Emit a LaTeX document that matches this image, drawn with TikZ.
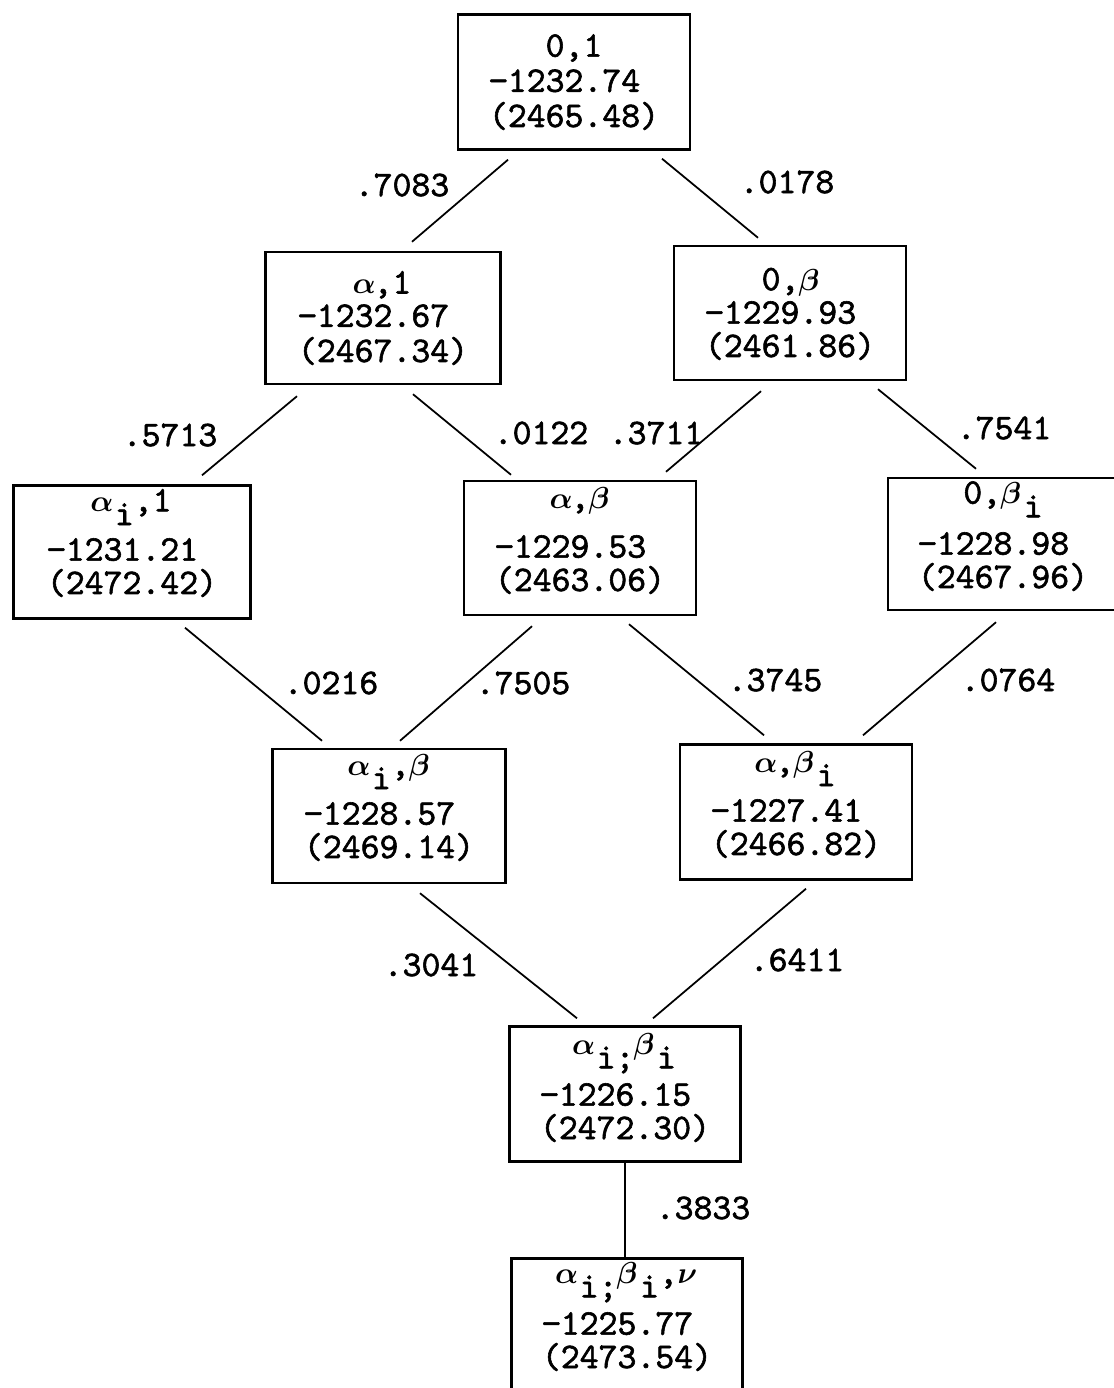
\documentclass[tikz,border=0pt]{standalone}
\usepackage{fontspec}
\newfontfamily\tw{lmmono10-regular.otf}[FakeBold=1.6]
\newcommand\gk[1]{\makebox[0.525em]{\fontsize{17.5}{19}\selectfont\boldmath$#1$}}
\newcommand\sbx[1]{\kern0.1em\raisebox{-0.38em}[0pt][0pt]{#1}}
\begin{document}
\begin{tikzpicture}[x=0.02cm,y=-0.02cm,
  box/.style={draw,line width=1.4pt,rectangle,inner sep=0pt,align=left,
              font=\tw\fontsize{20.5}{19}\selectfont,text depth=0pt},
  lastbl/.style={text height=#1},
  edge/.style={line width=1pt},
  lbl/.style={inner sep=0pt,font=\tw\fontsize{20.5}{19}\selectfont}]
\useasboundingbox (0,0) rectangle (1114,1388);
\clip (0,0) rectangle (1114,1388);

% boxes
\node[box,lastbl=1.8cm,minimum width=4.64cm,minimum height=2.7cm] (n01) at (574,82)
  {\makebox[4.725em]{0,1}\\[1pt]−1232.74\\[1pt](2465.48)};
\node[box,lastbl=1.76cm,minimum width=4.7cm,minimum height=2.64cm] (na1) at (383,318)
  {\makebox[4.725em]{\gk{\alpha},1}\\−1232.67\\[1pt](2467.34)};
\node[box,lastbl=1.76cm,minimum width=4.64cm,minimum height=2.68cm] (n0b) at (790,313)
  {\makebox[4.725em]{0,\gk{\beta}}\\−1229.93\\(2461.86)};
\node[box,lastbl=1.68cm,minimum width=4.74cm,minimum height=2.66cm] (nai1) at (132,552)
  {\makebox[4.725em]{\gk{\alpha}\sbx{i},1}\\[9pt]−1231.21\\(2472.42)};
\node[box,lastbl=1.72cm,minimum width=4.64cm,minimum height=2.68cm] (nab) at (580,548)
  {\makebox[4.725em]{\gk{\alpha},\gk{\beta}}\\[9pt]−1229.53\\(2463.06)};
\node[box,lastbl=1.76cm,minimum width=4.6cm,minimum height=2.64cm] (n0bi) at (1003,544)
  {\makebox[4.725em]{0,\gk{\beta}\sbx{i}}\\[10pt]−1228.98\\(2467.96)};
\node[box,lastbl=1.68cm,minimum width=4.66cm,minimum height=2.68cm] (naib) at (389,816)
  {\makebox[4.725em]{\gk{\alpha}\sbx{i},\gk{\beta}}\\[9pt]−1228.57\\(2469.14)};
\node[box,lastbl=1.72cm,minimum width=4.64cm,minimum height=2.7cm] (nabi) at (796,812)
  {\makebox[4.725em]{\gk{\alpha},\gk{\beta}\sbx{i}}\\[9pt]−1227.41\\(2466.82)};
\node[box,lastbl=1.8cm,minimum width=4.62cm,minimum height=2.7cm] (naibi) at (625,1094)
  {\makebox[4.725em]{\gk{\alpha}\sbx{i;}\gk{\beta}\sbx{i}}\\[10pt]−1226.15\\(2472.30)};
\node[box,lastbl=1.68cm,minimum width=4.62cm,minimum height=2.7cm] (nlast) at (627,1326)
  {\makebox[4.725em]{\gk{\alpha}\sbx{i;}\gk{\beta}\sbx{i},\gk{\nu}}\\[10pt]−1225.77\\(2473.54)};

% connectors
\draw[edge] ([shift={(-66,9)}]n01.south) -- ([shift={(29,-9)}]na1.north);
\draw[edge] ([shift={(88,8)}]n01.south) -- ([shift={(-32,-7)}]n0b.north);
\draw[edge] ([shift={(-86,11)}]na1.south) -- ([shift={(70,-9)}]nai1.north);
\draw[edge] ([shift={(30,9)}]na1.south) -- ([shift={(-69,-5)}]nab.north);
\draw[edge] ([shift={(-29,10)}]n0b.south) -- ([shift={(86,-8)}]nab.north);
\draw[edge] ([shift={(88,8)}]n0b.south) -- ([shift={(-27,-8)}]n0bi.north);
\draw[edge] ([shift={(53,8)}]nai1.south) -- ([shift={(-67,-7)}]naib.north);
\draw[edge] ([shift={(-48,10)}]nab.south) -- ([shift={(11,-7)}]naib.north);
\draw[edge] ([shift={(49,8)}]nab.south) -- ([shift={(-32,-8)}]nabi.north);
\draw[edge] ([shift={(-7,11)}]n0bi.south) -- ([shift={(67,-8)}]nabi.north);
\draw[edge] ([shift={(31,9)}]naib.south) -- ([shift={(-48,-7)}]naibi.north);
\draw[edge] ([shift={(10,8)}]nabi.south) -- ([shift={(28,-7)}]naibi.north);
\draw[edge] (naibi.south) -- (naibi.south |- nlast.north);

% labels
\node[lbl] (l1) at (402,185) {.7083};
\node[lbl] (l2) at (787,182) {.0178};
\node[lbl] (l3) at (170,435) {.5713};
\node[lbl] (l4) at (541,433) {.0122};
\node[lbl] (l5) at (656,433) {.3711};
\node[lbl] (l6) at (1004,428) {.7541};
\node[lbl] (l7) at (331,683) {.0216};
\node[lbl] (l8) at (523,683) {.7505};
\node[lbl] (l9) at (775,680) {.3745};
\node[lbl] (l10) at (1008,680) {.0764};
\node[lbl] (l11) at (431,965) {.3041};
\node[lbl] (l12) at (797,960) {.6411};
\node[lbl] (l13) at (703,1208) {.3833};
\end{tikzpicture}
\end{document}
